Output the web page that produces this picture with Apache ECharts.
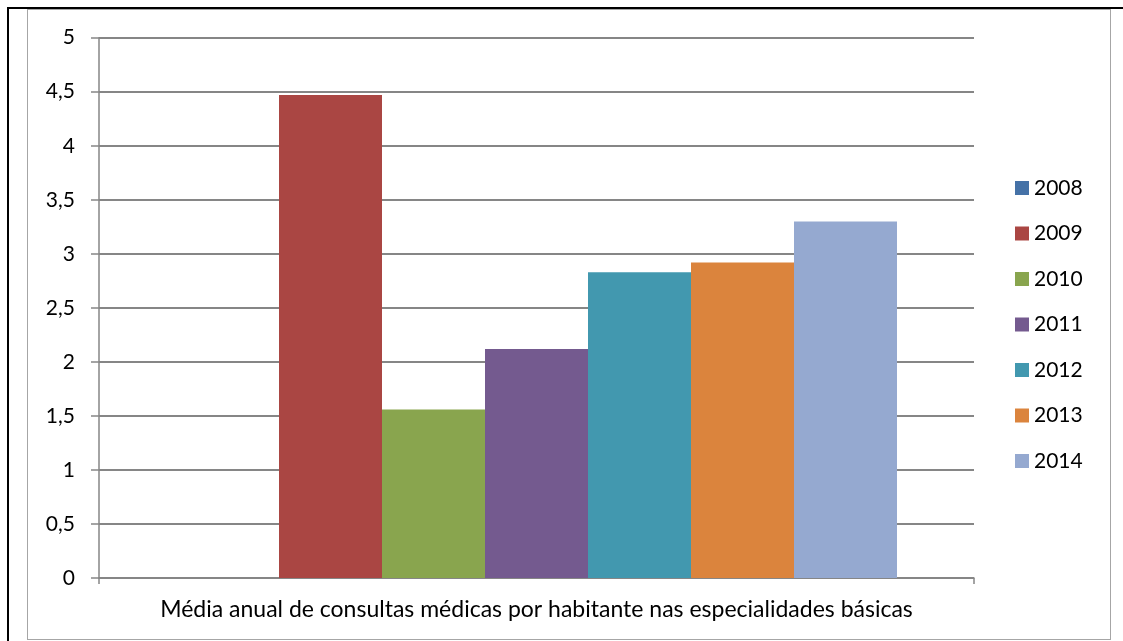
<!DOCTYPE html>
<html>
<head>
<meta charset="utf-8">
<script src="https://cdn.jsdelivr.net/npm/echarts@6/dist/echarts.min.js"></script>
<style>
  html, body { margin: 0; padding: 0; background: #fff; }
  #wrap { position: relative; width: 1123px; height: 641px; overflow: hidden; }
  /* moldura preta externa */
  .frame-top { position: absolute; left: 7px; top: 7px; width: 1116px; height: 2px; background: #000; }
  .frame-left { position: absolute; left: 7px; top: 7px; width: 2px; height: 634px; background: #000; }
  /* borda cinza da área do gráfico */
  .chart-box { position: absolute; left: 27px; top: 9px; width: 1082px; height: 629px; border: 1px solid #a6a6a6; }
  #chart { position: absolute; left: 0; top: 0; width: 1123px; height: 641px; }
</style>
</head>
<body>
<div id="wrap">
  <div class="frame-top"></div>
  <div class="frame-left"></div>
  <div class="chart-box"></div>
  <div id="chart"></div>
</div>
<script>
// dados do gráfico
const categorias = ['Média anual de consultas médicas por habitante nas especialidades básicas'];
const anos = ['2008', '2009', '2010', '2011', '2012', '2013', '2014'];
const valores = [null, 4.47, 1.56, 2.12, 2.83, 2.92, 3.30];
const cores = ['#4572A7', '#AA4643', '#89A54E', '#745A8F', '#4298AF', '#DB843D', '#95A9D0'];
const ticksY = [0, 0.5, 1, 1.5, 2, 2.5, 3, 3.5, 4, 4.5, 5];

const fonte = 'Lato, "Noto Sans", sans-serif';

const chart = echarts.init(document.getElementById('chart'));

const series = anos.map((ano, i) => ({
  name: ano,
  type: 'bar',
  data: [valores[i]],
  barGap: '0%',
  barCategoryGap: '17.6%',
  itemStyle: { color: cores[i] }
}));

const option = {
  animation: false,
  textStyle: { fontFamily: fonte },
  grid: { left: 99, right: 149, top: 37.7, bottom: 63 },
  legend: {
    orient: 'vertical',
    left: 1015,
    top: 177.5,
    padding: 0,
    icon: 'rect',
    itemWidth: 14,
    itemHeight: 14,
    itemGap: 24.5,
    data: anos,
    textStyle: { fontFamily: fonte, fontSize: 21, color: '#000', lineHeight: 21 }
  },
  xAxis: {
    type: 'category',
    data: categorias,
    axisLine: { lineStyle: { color: '#868686', width: 1.5 } },
    axisTick: { show: true, length: 6, lineStyle: { color: '#868686', width: 1.5 } },
    axisLabel: { fontFamily: fonte, fontSize: 23, color: '#000', margin: 20 }
  },
  yAxis: {
    type: 'value',
    min: ticksY[0],
    max: ticksY[ticksY.length - 1],
    interval: 0.5,
    axisLine: { show: true, lineStyle: { color: '#868686', width: 1.5 } },
    axisTick: { show: true, length: 8, lineStyle: { color: '#868686', width: 1.5 } },
    axisLabel: {
      fontFamily: fonte,
      fontSize: 21,
      color: '#000',
      margin: 24,
      formatter: v => String(v).replace('.', ',')
    },
    splitLine: { lineStyle: { color: '#868686', width: 1.8 } }
  },
  series: series
};

chart.setOption(option);
</script>
</body>
</html>
